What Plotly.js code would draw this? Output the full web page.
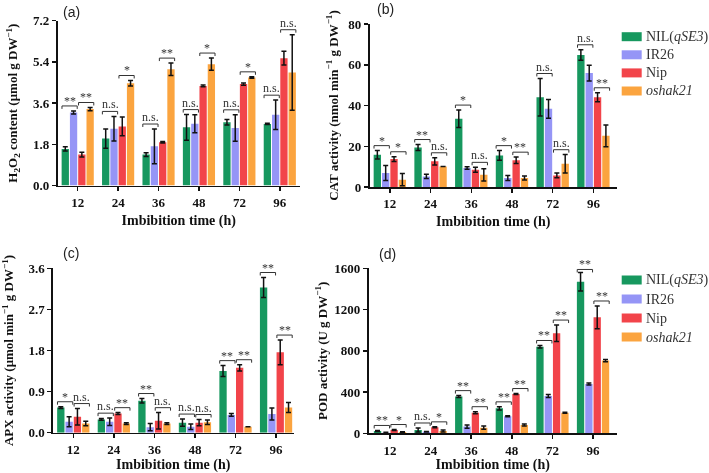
<!DOCTYPE html>
<html><head><meta charset="utf-8">
<script src="https://cdn.plot.ly/plotly-3.0.1.min.js"></script>
<style>html,body{margin:0;padding:0;background:#fff}#chart{width:709px;height:473px}svg{will-change:transform}</style>
</head><body><div id="chart"></div>
<script>
// ---------- data ----------
const categories = ["12", "24", "36", "48", "72", "96"];
const seriesNames = ["NIL(<i>qSE3</i>)", "IR26", "Nip", "<i>oshak21</i>"];

// (a) H2O2 content
const h2o2_NIL = [1.60, 2.05, 1.35, 2.54, 2.76, 2.69];
const h2o2_NIL_err = [0.09, 0.42, 0.08, 0.56, 0.12, 0.03];
const h2o2_IR26 = [3.19, 2.48, 1.71, 2.70, 2.51, 3.09];
const h2o2_IR26_err = [0.07, 0.54, 0.76, 0.39, 0.58, 0.64];
const h2o2_Nip = [1.35, 2.58, 1.89, 4.35, 4.43, 5.56];
const h2o2_Nip_err = [0.10, 0.41, 0.03, 0.04, 0.05, 0.30];
const h2o2_oshak = [3.34, 4.47, 5.08, 5.30, 4.72, 4.94];
const h2o2_oshak_err = [0.07, 0.12, 0.27, 0.27, 0.03, 1.65];
const h2o2_sig_NIL_IR26 = ["**", "n.s.", "n.s.", "n.s.", "n.s.", "n.s."];
const h2o2_sig_Nip_oshak = ["**", "*", "**", "*", "*", "n.s."];

// (b) CAT activity
const cat_NIL = [15.8, 19.4, 33.5, 15.5, 44.1, 64.8];
const cat_NIL_err = [2.1, 1.5, 4.3, 2.4, 9.2, 2.6];
const cat_IR26 = [6.9, 5.2, 9.3, 4.4, 38.4, 55.9];
const cat_IR26_err = [3.7, 1.0, 0.6, 1.2, 4.6, 3.9];
const cat_Nip = [13.7, 12.6, 8.5, 13.1, 5.7, 44.1];
const cat_Nip_err = [1.2, 1.8, 1.2, 1.6, 1.2, 2.2];
const cat_oshak = [3.6, 10.1, 6.0, 4.4, 11.4, 25.1];
const cat_oshak_err = [3.0, 0, 3.0, 1.0, 4.5, 5.3];
const cat_sig_NIL_IR26 = ["*", "**", "*", "*", "n.s.", "n.s."];
const cat_sig_Nip_oshak = ["*", "n.s.", "n.s.", "**", "n.s.", "**"];

// (c) APX activity
const apx_NIL = [0.55, 0.29, 0.70, 0.22, 1.35, 3.18];
const apx_NIL_err = [0.02, 0.02, 0.05, 0.08, 0.12, 0.22];
const apx_IR26 = [0.24, 0.24, 0.12, 0.13, 0.39, 0.41];
const apx_IR26_err = [0.11, 0.08, 0.08, 0.06, 0.03, 0.13];
const apx_Nip = [0.35, 0.42, 0.26, 0.22, 1.42, 1.76];
const apx_Nip_err = [0.18, 0.02, 0.18, 0.07, 0.07, 0.27];
const apx_oshak = [0.20, 0.20, 0.20, 0.23, 0.13, 0.55];
const apx_oshak_err = [0.05, 0.02, 0.02, 0.05, 0, 0.11];
const apx_sig_NIL_IR26 = ["*", "n.s.", "**", "n.s.", "**", "**"];
const apx_sig_Nip_oshak = ["n.s.", "**", "n.s.", "n.s.", "**", "**"];

// (d) POD activity
const pod_NIL = [23, 32, 356, 242, 840, 1470];
const pod_NIL_err = [5, 20, 10, 15, 12, 90];
const pod_IR26 = [6, 15, 65, 165, 362, 478];
const pod_IR26_err = [3, 3, 15, 5, 15, 10];
const pod_Nip = [32, 58, 200, 381, 970, 1125];
const pod_Nip_err = [5, 5, 10, 5, 80, 110];
const pod_oshak = [13, 22, 55, 81, 200, 705];
const pod_oshak_err = [3, 10, 15, 10, 5, 10];
const pod_sig_NIL_IR26 = ["**", "n.s.", "**", "**", "**", "**"];
const pod_sig_Nip_oshak = ["*", "*", "**", "**", "**", "**"];

// ---------- styling / layout ----------
const colors = ["#17985f", "#9595f6", "#f2444a", "#fba43f"];
const serif = "Liberation Serif, Times New Roman, serif";
const BARGAP = 0.18, GROUPGAP = 0.12;
const slot = (1 - BARGAP) / 4;

const panels = [
  {ax: "", vals: [h2o2_NIL, h2o2_IR26, h2o2_Nip, h2o2_oshak],
   errs: [h2o2_NIL_err, h2o2_IR26_err, h2o2_Nip_err, h2o2_oshak_err],
   sig1: h2o2_sig_NIL_IR26, sig2: h2o2_sig_Nip_oshak,
   ymax: 7.2, dtick: 1.8, fmt: ".1f", xr: [-0.5, 5.5],
   xd: [57.5, 300], yd: [20.7, 185.5], legend: null, label: "(a)", lab: [71, 12],
   title: "H<sub>2</sub>O<sub>2</sub> content (μmol g DW<sup>−1</sup>)", standoff: 12, xstand: 6},
  {ax: "2", vals: [cat_NIL, cat_IR26, cat_Nip, cat_oshak],
   errs: [cat_NIL_err, cat_IR26_err, cat_Nip_err, cat_oshak_err],
   sig1: cat_sig_NIL_IR26, sig2: cat_sig_Nip_oshak,
   ymax: 80, dtick: 20, fmt: "d", xr: [-0.5, 5.58],
   xd: [369.5, 617], yd: [24, 187], legend: {top: 36.7, step: 18.1}, label: "(b)", lab: [385, 9],
   title: "CAT activity (nmol min<sup>−1</sup> g DW<sup>−1</sup>)", standoff: 7, xstand: 6},
  {ax: "3", vals: [apx_NIL, apx_IR26, apx_Nip, apx_oshak],
   errs: [apx_NIL_err, apx_IR26_err, apx_Nip_err, apx_oshak_err],
   sig1: apx_sig_NIL_IR26, sig2: apx_sig_Nip_oshak,
   ymax: 3.6, dtick: 0.9, fmt: ".1f", xr: [-0.5, 5.43],
   xd: [53, 293.5], yd: [268.3, 432.7], legend: null, label: "(c)", lab: [71, 253],
   title: "APX activity (μmol min<sup>−1</sup> g DW<sup>−1</sup>)", standoff: 12, xstand: 9},
  {ax: "4", vals: [pod_NIL, pod_IR26, pod_Nip, pod_oshak],
   errs: [pod_NIL_err, pod_IR26_err, pod_Nip_err, pod_oshak_err],
   sig1: pod_sig_NIL_IR26, sig2: pod_sig_Nip_oshak,
   ymax: 1600, dtick: 400, fmt: "d", xr: [-0.53, 5.59],
   xd: [368.5, 617], yd: [268.3, 433.3], legend: {top: 280, step: 19}, label: "(d)", lab: [387, 254],
   title: "POD activity (U g DW<sup>−1</sup>)", standoff: 4, xstand: 9}
];

const W = 709, H = 473;
const xIdx = categories.map((c, i) => i);
const traces = [];
const shapes = [];
const annotations = [];
const layout = {
  width: W, height: H,
  margin: {l: 0, r: 0, t: 0, b: 0},
  paper_bgcolor: "#fff", plot_bgcolor: "#fff",
  barmode: "group", bargap: BARGAP, bargroupgap: GROUPGAP,
  font: {family: serif, color: "#111"},
  showlegend: false,
  annotations: annotations, shapes: shapes
};

panels.forEach(p => {
  const xa = "x" + p.ax, ya = "y" + p.ax;
  p.vals.forEach((v, s) => {
    traces.push({
      type: "bar", x: xIdx, y: v, name: seriesNames[s],
      xaxis: xa, yaxis: ya,
      marker: {color: colors[s], line: {width: 0}},
      error_y: {type: "data", array: p.errs[s], visible: true, color: "#111", thickness: 1.5, width: 2.5},
      showlegend: false,
      hoverinfo: "skip"
    });
  });
  layout["xaxis" + p.ax] = {
    domain: [p.xd[0] / W, p.xd[1] / W], anchor: ya, range: p.xr,
    tickvals: xIdx, ticktext: categories,
    showline: true, linecolor: "#111", linewidth: 1.6, ticks: "outside", ticklen: 4, tickwidth: 1.5, tickcolor: "#111",
    showgrid: false, zeroline: false,
    tickfont: {family: serif, size: 13, weight: "bold", color: "#111"},
    title: {text: "Imbibition time (h)", font: {family: serif, size: 14, weight: "bold", color: "#111"}, standoff: p.xstand}
  };
  layout["yaxis" + p.ax] = {
    domain: [1 - p.yd[1] / H, 1 - p.yd[0] / H], anchor: xa, range: [0, p.ymax],
    tick0: 0, dtick: p.dtick, tickformat: p.fmt,
    showline: true, linecolor: "#111", linewidth: 1.6, ticks: "outside", ticklen: 4, tickwidth: 1.5, tickcolor: "#111",
    showgrid: false, zeroline: false,
    tickfont: {family: serif, size: 13, weight: "bold", color: "#111"},
    title: {text: p.title, font: {family: serif, size: 13, weight: "bold", color: "#111"}, standoff: p.standoff}
  };
  annotations.push({xref: "paper", yref: "paper", x: p.lab[0] / W, y: 1 - p.lab[1] / H,
    text: p.label, showarrow: false, xanchor: "center", yanchor: "middle",
    font: {family: "Liberation Sans, Arial, sans-serif", size: 14, color: "#222"}});

  // legend (swatch + label) for panels (b) and (d)
  if (p.legend) {
    seriesNames.forEach((nm, s) => {
      const cy = p.legend.top + s * p.legend.step;
      shapes.push({type: "rect", xref: "paper", yref: "paper",
        x0: 621.7 / W, x1: 641.7 / W, y0: 1 - (cy + 4.5) / H, y1: 1 - (cy - 4.5) / H,
        fillcolor: colors[s], line: {width: 0}});
      annotations.push({xref: "paper", yref: "paper", x: 645 / W, y: 1 - cy / H,
        text: nm, showarrow: false, xanchor: "left", yanchor: "middle", borderpad: 0,
        font: {family: serif, size: 14, color: "#333"}});
    });
  }

  // significance brackets, heights derived from bar tops + error
  const d = 0.018 * p.ymax;
  categories.forEach((c, i) => {
    [[0, 1, p.sig1[i]], [2, 3, p.sig2[i]]].forEach(([a, b, lab]) => {
      const top = Math.max(p.vals[a][i] + p.errs[a][i], p.vals[b][i] + p.errs[b][i]);
      const y = Math.min(top + 0.03 * p.ymax, 0.993 * p.ymax);
      const xl = a === 0 ? i - 1.9 * slot : i + 0.1 * slot;
      const xr = a === 0 ? i - 0.06 * slot : i + 1.94 * slot;
      shapes.push({type: "path", xref: xa, yref: ya,
        path: `M ${xl},${y - d} L ${xl},${y} L ${xr},${y} L ${xr},${y - d}`,
        line: {color: "#333", width: 1}});
      annotations.push({xref: xa, yref: ya, x: (xl + xr) / 2, y: y, text: lab, showarrow: false,
        xanchor: "center", yanchor: "bottom", yshift: lab === "n.s." ? -2 : -4,
        font: {family: serif, size: 12, color: "#333"}});
    });
  });
});

Plotly.newPlot("chart", traces, layout, {staticPlot: true, displayModeBar: false});
</script>
</body></html>
